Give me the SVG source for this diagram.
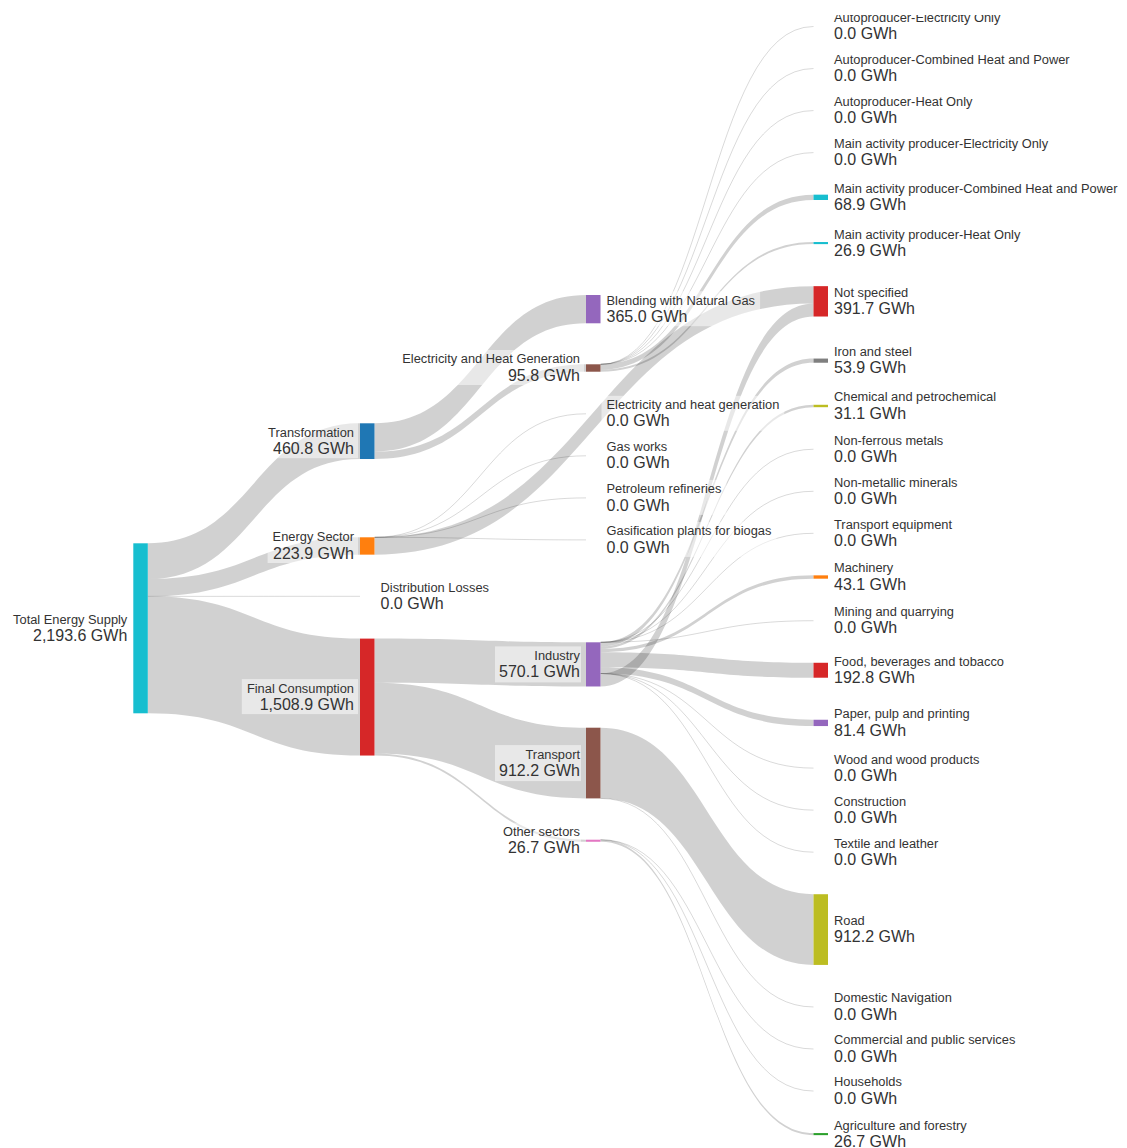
<svg xmlns="http://www.w3.org/2000/svg" width="1127" height="1148" viewBox="0 0 1127 1148">
  <style>
    .band { fill: rgba(0,0,0,0.18); stroke: none; }
    .zero { fill: none; stroke: rgba(0,0,0,0.17); stroke-width: 0.9; }
    .nm { font-family: "Liberation Sans", Arial, sans-serif; font-size: 12.85px; fill: #333; }
    .vl { font-family: "Liberation Sans", Arial, sans-serif; font-size: 16px; fill: #333; }
    .end { text-anchor: end; }
    .halo { fill: #fff; fill-opacity: 0.5; }
  </style>
  <defs>
    <clipPath id="frame"><rect x="0" y="15" width="1127" height="1133"/></clipPath>
  </defs>
  <rect width="1127" height="1148" fill="#fff"/>

  <!-- flows -->
  <g id="links">
    <!-- Total Energy Supply -->
    <path class="band" d="M147.8,543.3 C253.9,543.3 253.9,423.3 360,423.3 L360,459 C253.9,459 253.9,579 147.8,579 Z"/>
    <path class="band" d="M147.8,579 C253.9,579 253.9,537.3 360,537.3 L360,554.65 C253.9,554.65 253.9,596.36 147.8,596.36 Z"/>
    <path class="zero" d="M147.8,596.36 C253.9,596.36 253.9,596.3 360,596.3"/>
    <path class="band" d="M147.8,596.36 C253.9,596.36 253.9,638.6 360,638.6 L360,755.54 C253.9,755.54 253.9,713.3 147.8,713.3 Z"/>

    <!-- Transformation -->
    <path class="band" d="M374.5,423.3 C480.25,423.3 480.25,295 586,295 L586,323.29 C480.25,323.29 480.25,451.59 374.5,451.59 Z"/>
    <path class="band" d="M374.5,451.59 C480.25,451.59 480.25,364.3 586,364.3 L586,371.72 C480.25,371.72 480.25,459.01 374.5,459.01 Z"/>

    <!-- Energy Sector -->
    <path class="zero" d="M374.5,537.3 C480.25,537.3 480.25,413.8 586,413.8"/>
    <path class="zero" d="M374.5,537.3 C480.25,537.3 480.25,455.8 586,455.8"/>
    <path class="zero" d="M374.5,537.3 C480.25,537.3 480.25,497.9 586,497.9"/>
    <path class="zero" d="M374.5,537.3 C480.25,537.3 480.25,539.9 586,539.9"/>
    <path class="band" d="M374.5,537.3 C594,537.3 594,286.16 813.5,286.16 L813.5,303.51 C594,303.51 594,554.65 374.5,554.65 Z"/>

    <!-- Final Consumption -->
    <path class="band" d="M374.5,638.6 C480.25,638.6 480.25,642.3 586,642.3 L586,686.48 C480.25,686.48 480.25,682.78 374.5,682.78 Z"/>
    <path class="band" d="M374.5,682.78 C480.25,682.78 480.25,727.7 586,727.7 L586,798.4 C480.25,798.4 480.25,753.48 374.5,753.48 Z"/>
    <path class="band" d="M374.5,753.48 C480.25,753.48 480.25,839.7 586,839.7 L586,841.77 C480.25,841.77 480.25,755.55 374.5,755.55 Z"/>

    <!-- Electricity and Heat Generation -->
    <path class="zero" d="M600.5,364.3 C707,364.3 707,26.5 813.5,26.5"/>
    <path class="zero" d="M600.5,364.3 C707,364.3 707,68.54 813.5,68.54"/>
    <path class="zero" d="M600.5,364.3 C707,364.3 707,110.58 813.5,110.58"/>
    <path class="zero" d="M600.5,364.3 C707,364.3 707,152.62 813.5,152.62"/>
    <path class="band" d="M600.5,364.3 C707,364.3 707,194.66 813.5,194.66 L813.5,200 C707,200 707,369.64 600.5,369.64 Z"/>
    <path class="band" d="M600.5,369.64 C707,369.64 707,242.04 813.5,242.04 L813.5,244.12 C707,244.12 707,371.72 600.5,371.72 Z"/>

    <!-- Industry -->
    <path class="zero" d="M600.5,642.3 C707,642.3 707,449.23 813.5,449.23"/>
    <path class="zero" d="M600.5,642.3 C707,642.3 707,491.27 813.5,491.27"/>
    <path class="zero" d="M600.5,642.3 C707,642.3 707,533.31 813.5,533.31"/>
    <path class="zero" d="M600.5,642.3 C707,642.3 707,620.73 813.5,620.73"/>
    <path class="band" d="M600.5,642.3 C707,642.3 707,358.56 813.5,358.56 L813.5,362.74 C707,362.74 707,646.48 600.5,646.48 Z"/>
    <path class="band" d="M600.5,646.48 C707,646.48 707,404.78 813.5,404.78 L813.5,407.19 C707,407.19 707,648.89 600.5,648.89 Z"/>
    <path class="band" d="M600.5,648.89 C707,648.89 707,575.35 813.5,575.35 L813.5,578.69 C707,578.69 707,652.23 600.5,652.23 Z"/>
    <path class="band" d="M600.5,652.23 C707,652.23 707,662.77 813.5,662.77 L813.5,677.71 C707,677.71 707,667.17 600.5,667.17 Z"/>
    <path class="band" d="M600.5,667.17 C707,667.17 707,719.75 813.5,719.75 L813.5,726.06 C707,726.06 707,673.48 600.5,673.48 Z"/>
    <path class="zero" d="M600.5,673.48 C707,673.48 707,768.1 813.5,768.1"/>
    <path class="zero" d="M600.5,673.48 C707,673.48 707,810.14 813.5,810.14"/>
    <path class="zero" d="M600.5,673.48 C707,673.48 707,852.18 813.5,852.18"/>
    <path class="band" d="M600.5,673.48 C707,673.48 707,303.51 813.5,303.51 L813.5,316.52 C707,316.52 707,686.48 600.5,686.48 Z"/>

    <!-- Transport -->
    <path class="band" d="M600.5,727.7 C707,727.7 707,894.22 813.5,894.22 L813.5,964.92 C707,964.92 707,798.4 600.5,798.4 Z"/>
    <path class="zero" d="M600.5,798.4 C707,798.4 707,1006.96 813.5,1006.96"/>

    <!-- Other sectors -->
    <path class="zero" d="M600.5,839.7 C707,839.7 707,1049 813.5,1049"/>
    <path class="zero" d="M600.5,839.7 C707,839.7 707,1091.04 813.5,1091.04"/>
    <path class="band" d="M600.5,839.7 C707,839.7 707,1133.08 813.5,1133.08 L813.5,1135.15 C707,1135.15 707,841.77 600.5,841.77 Z"/>
  </g>

  <!-- column 0 -->
  <g id="node-total-energy-supply">
    <rect x="133.3" y="543.3" width="14.5" height="170" fill="#17becf"/>
    <rect class="halo" x="6.5" y="610.3" width="124.8" height="35"/>
    <text class="nm end" x="127.3" y="623.7">Total Energy Supply</text>
    <text class="vl end" x="127.3" y="640.9">2,193.6 GWh</text>
  </g>

  <!-- column 1 -->
  <g id="node-transformation">
    <rect x="360" y="423.3" width="14.5" height="35.71" fill="#1f77b4"/>
    <rect class="halo" x="262.6" y="423.2" width="95.4" height="35"/>
    <text class="nm end" x="354" y="436.6">Transformation</text>
    <text class="vl end" x="354" y="453.8">460.8 GWh</text>
  </g>
  <g id="node-energy-sector">
    <rect x="360" y="537.3" width="14.5" height="17.35" fill="#ff7f0e"/>
    <rect class="halo" x="267.6" y="528" width="90.4" height="35"/>
    <text class="nm end" x="354" y="541.4">Energy Sector</text>
    <text class="vl end" x="354" y="558.6">223.9 GWh</text>
  </g>
  <g id="node-distribution-losses">
    <rect class="halo" x="375.5" y="578.3" width="118.6" height="35"/>
    <text class="nm" x="380.5" y="591.7">Distribution Losses</text>
    <text class="vl" x="380.5" y="608.9">0.0 GWh</text>
  </g>
  <g id="node-final-consumption">
    <rect x="360" y="638.6" width="14.5" height="116.94" fill="#d62728"/>
    <rect class="halo" x="241.8" y="679.1" width="116.2" height="35"/>
    <text class="nm end" x="354" y="692.5">Final Consumption</text>
    <text class="vl end" x="354" y="709.7">1,508.9 GWh</text>
  </g>

  <!-- column 2 -->
  <g id="node-blending-with-natural-gas">
    <rect x="586" y="295" width="14.5" height="28.29" fill="#9467bd"/>
    <rect class="halo" x="601.5" y="291.2" width="158.6" height="35"/>
    <text class="nm" x="606.5" y="304.6">Blending with Natural Gas</text>
    <text class="vl" x="606.5" y="321.8">365.0 GWh</text>
  </g>
  <g id="node-electricity-and-heat-generation">
    <rect x="586" y="364.3" width="14.5" height="7.42" fill="#8c564b"/>
    <rect class="halo" x="397.2" y="350" width="186.8" height="35"/>
    <text class="nm end" x="580" y="363.4">Electricity and Heat Generation</text>
    <text class="vl end" x="580" y="380.6">95.8 GWh</text>
  </g>
  <g id="node-electricity-and-heat-generation-own-use">
    <rect class="halo" x="601.5" y="395.8" width="182.8" height="35"/>
    <text class="nm" x="606.5" y="409.2">Electricity and heat generation</text>
    <text class="vl" x="606.5" y="426.4">0.0 GWh</text>
  </g>
  <g id="node-gas-works">
    <rect class="halo" x="601.5" y="437.8" width="73.2" height="35"/>
    <text class="nm" x="606.5" y="451.2">Gas works</text>
    <text class="vl" x="606.5" y="468.4">0.0 GWh</text>
  </g>
  <g id="node-petroleum-refineries">
    <rect class="halo" x="601.5" y="479.9" width="125" height="35"/>
    <text class="nm" x="606.5" y="493.3">Petroleum refineries</text>
    <text class="vl" x="606.5" y="510.5">0.0 GWh</text>
  </g>
  <g id="node-gasification-plants">
    <rect class="halo" x="601.5" y="521.9" width="175" height="35"/>
    <text class="nm" x="606.5" y="535.3">Gasification plants for biogas</text>
    <text class="vl" x="606.5" y="552.5">0.0 GWh</text>
  </g>
  <g id="node-industry">
    <rect x="586" y="642.3" width="14.5" height="44.18" fill="#9467bd"/>
    <rect class="halo" x="495" y="646.4" width="86" height="36"/>
    <text class="nm end" x="580" y="659.8">Industry</text>
    <text class="vl end" x="580" y="677">570.1 GWh</text>
  </g>
  <g id="node-transport">
    <rect x="586" y="727.7" width="14.5" height="70.7" fill="#8c564b"/>
    <rect class="halo" x="495" y="745.1" width="86" height="36"/>
    <text class="nm end" x="580" y="758.5">Transport</text>
    <text class="vl end" x="580" y="775.7">912.2 GWh</text>
  </g>
  <g id="node-other-sectors">
    <rect x="586" y="839.7" width="14.5" height="2.07" fill="#e377c2"/>
    <rect class="halo" x="499" y="822.7" width="82" height="36"/>
    <text class="nm end" x="580" y="836.1">Other sectors</text>
    <text class="vl end" x="580" y="853.3">26.7 GWh</text>
  </g>

  <!-- column 3 -->
  <g clip-path="url(#frame)">
    <g id="node-autoproducer-electricity-only">
      <text class="nm" x="834" y="21.9">Autoproducer-Electricity Only</text>
      <text class="vl" x="834" y="39.1">0.0 GWh</text>
    </g>
    <g id="node-autoproducer-chp">
      <text class="nm" x="834" y="63.9">Autoproducer-Combined Heat and Power</text>
      <text class="vl" x="834" y="81.1">0.0 GWh</text>
    </g>
    <g id="node-autoproducer-heat-only">
      <text class="nm" x="834" y="106">Autoproducer-Heat Only</text>
      <text class="vl" x="834" y="123.2">0.0 GWh</text>
    </g>
    <g id="node-main-electricity-only">
      <text class="nm" x="834" y="148">Main activity producer-Electricity Only</text>
      <text class="vl" x="834" y="165.2">0.0 GWh</text>
    </g>
    <g id="node-main-chp">
      <rect x="813.5" y="194.66" width="14.5" height="5.34" fill="#17becf"/>
      <text class="nm" x="834" y="192.7">Main activity producer-Combined Heat and Power</text>
      <text class="vl" x="834" y="209.9">68.9 GWh</text>
    </g>
    <g id="node-main-heat-only">
      <rect x="813.5" y="242.04" width="14.5" height="2.08" fill="#17becf"/>
      <text class="nm" x="834" y="238.5">Main activity producer-Heat Only</text>
      <text class="vl" x="834" y="255.7">26.9 GWh</text>
    </g>
    <g id="node-not-specified">
      <rect x="813.5" y="286.16" width="14.5" height="30.36" fill="#d62728"/>
      <text class="nm" x="834" y="296.7">Not specified</text>
      <text class="vl" x="834" y="313.9">391.7 GWh</text>
    </g>
    <g id="node-iron-and-steel">
      <rect x="813.5" y="358.56" width="14.5" height="4.18" fill="#7f7f7f"/>
      <text class="nm" x="834" y="356">Iron and steel</text>
      <text class="vl" x="834" y="373.2">53.9 GWh</text>
    </g>
    <g id="node-chemical">
      <rect x="813.5" y="404.78" width="14.5" height="2.41" fill="#bcbd22"/>
      <text class="nm" x="834" y="401.4">Chemical and petrochemical</text>
      <text class="vl" x="834" y="418.6">31.1 GWh</text>
    </g>
    <g id="node-non-ferrous-metals">
      <text class="nm" x="834" y="444.6">Non-ferrous metals</text>
      <text class="vl" x="834" y="461.8">0.0 GWh</text>
    </g>
    <g id="node-non-metallic-minerals">
      <text class="nm" x="834" y="486.7">Non-metallic minerals</text>
      <text class="vl" x="834" y="503.9">0.0 GWh</text>
    </g>
    <g id="node-transport-equipment">
      <text class="nm" x="834" y="528.7">Transport equipment</text>
      <text class="vl" x="834" y="545.9">0.0 GWh</text>
    </g>
    <g id="node-machinery">
      <rect x="813.5" y="575.35" width="14.5" height="3.34" fill="#ff7f0e"/>
      <text class="nm" x="834" y="572.4">Machinery</text>
      <text class="vl" x="834" y="589.6">43.1 GWh</text>
    </g>
    <g id="node-mining-and-quarrying">
      <text class="nm" x="834" y="616.1">Mining and quarrying</text>
      <text class="vl" x="834" y="633.3">0.0 GWh</text>
    </g>
    <g id="node-food-beverages-tobacco">
      <rect x="813.5" y="662.77" width="14.5" height="14.94" fill="#d62728"/>
      <text class="nm" x="834" y="665.6">Food, beverages and tobacco</text>
      <text class="vl" x="834" y="682.8">192.8 GWh</text>
    </g>
    <g id="node-paper-pulp-printing">
      <rect x="813.5" y="719.75" width="14.5" height="6.31" fill="#9467bd"/>
      <text class="nm" x="834" y="718.3">Paper, pulp and printing</text>
      <text class="vl" x="834" y="735.5">81.4 GWh</text>
    </g>
    <g id="node-wood-products">
      <text class="nm" x="834" y="763.5">Wood and wood products</text>
      <text class="vl" x="834" y="780.7">0.0 GWh</text>
    </g>
    <g id="node-construction">
      <text class="nm" x="834" y="805.5">Construction</text>
      <text class="vl" x="834" y="822.7">0.0 GWh</text>
    </g>
    <g id="node-textile-and-leather">
      <text class="nm" x="834" y="847.6">Textile and leather</text>
      <text class="vl" x="834" y="864.8">0.0 GWh</text>
    </g>
    <g id="node-road">
      <rect x="813.5" y="894.22" width="14.5" height="70.7" fill="#bcbd22"/>
      <text class="nm" x="834" y="925">Road</text>
      <text class="vl" x="834" y="942.2">912.2 GWh</text>
    </g>
    <g id="node-domestic-navigation">
      <text class="nm" x="834" y="1002.4">Domestic Navigation</text>
      <text class="vl" x="834" y="1019.6">0.0 GWh</text>
    </g>
    <g id="node-commercial-public-services">
      <text class="nm" x="834" y="1044.4">Commercial and public services</text>
      <text class="vl" x="834" y="1061.6">0.0 GWh</text>
    </g>
    <g id="node-households">
      <text class="nm" x="834" y="1086.4">Households</text>
      <text class="vl" x="834" y="1103.6">0.0 GWh</text>
    </g>
    <g id="node-agriculture-forestry">
      <rect x="813.5" y="1133.08" width="14.5" height="2.07" fill="#2ca02c"/>
      <text class="nm" x="834" y="1129.5">Agriculture and forestry</text>
      <text class="vl" x="834" y="1146.7">26.7 GWh</text>
    </g>
  </g>
</svg>
